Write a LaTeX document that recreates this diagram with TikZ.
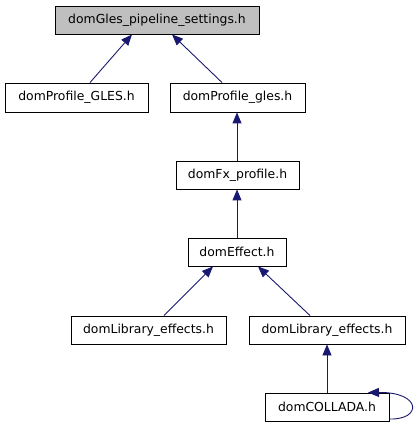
\documentclass[tikz,border=0pt]{standalone}
\usepackage{fontspec}
\setmainfont{DejaVu Sans}
\usetikzlibrary{arrows.meta}
\definecolor{edgeblue}{HTML}{191970}
\definecolor{topgray}{HTML}{BFBFBF}
\tikzset{
  filebox/.style={draw=black, line width=0.9pt, fill=white, inner sep=0pt, font=\fontsize{12.4}{14}\selectfont, anchor=center},
  edge/.style={draw=edgeblue, line width=0.9pt, {Triangle[length=11pt,width=9pt]}-},
}
\begin{document}
\begin{tikzpicture}[x=1pt,y=-1pt]
\useasboundingbox (0,0) rectangle (417,427);
\node[filebox, fill=topgray, minimum width=204pt, minimum height=28pt] (top) at (157,20) {domGles\_pipeline\_settings.h};
\node[filebox, minimum width=143pt, minimum height=29pt] (pGLES) at (76.5,97.5) {domProfile\_GLES.h};
\node[filebox, minimum width=135pt, minimum height=29pt] (pgles) at (237.5,97.5) {domProfile\_gles.h};
\node[filebox, minimum width=123pt, minimum height=28pt] (fx) at (237.5,175) {domFx\_profile.h};
\node[filebox, minimum width=98pt, minimum height=28pt] (eff) at (237,252) {domEffect.h};
\node[filebox, minimum width=155pt, minimum height=28pt] (libL) at (148.5,330) {domLibrary\_effects.h};
\node[filebox, minimum width=156pt, minimum height=28pt] (libR) at (327,330) {domLibrary\_effects.h};
\node[filebox, minimum width=124pt, minimum height=28pt] (col) at (327,407) {domCOLLADA.h};
\draw[edge] (top.south -| 132,0) -- (pGLES.north -| 90,0);
\draw[edge] (top.south -| 172,0) -- (pgles.north -| 222,0);
\draw[edge] (pgles.south -| 237,0) -- (fx.north -| 237,0);
\draw[edge] (fx.south -| 237,0) -- (eff.north -| 237,0);
\draw[edge] (eff.south -| 213,0) -- (libL.north -| 164,0);
\draw[edge] (eff.south -| 258,0) -- (libR.north -| 310,0);
\draw[edge] (libR.south -| 327,0) -- (col.north -| 327,0);
\draw[edge] (col.north -| 368,0) .. controls (422,392) and (422,420) .. (col.east |- 0,419);
\end{tikzpicture}
\end{document}
